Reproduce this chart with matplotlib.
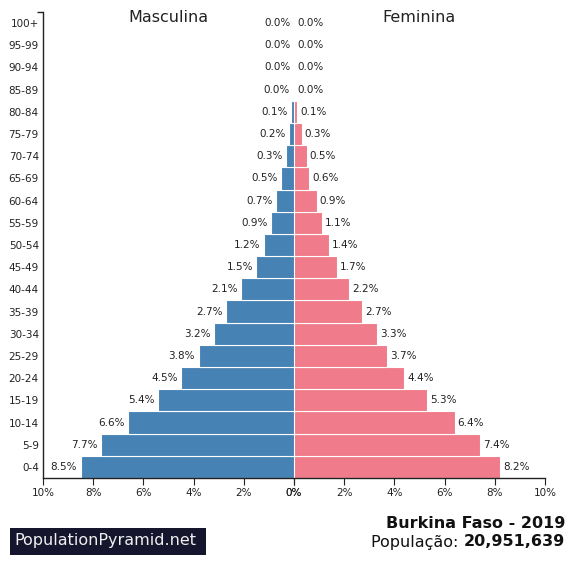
import matplotlib
matplotlib.use("Agg")
import matplotlib.pyplot as plt
from matplotlib.patches import Rectangle

age_groups = ["0-4", "5-9", "10-14", "15-19", "20-24", "25-29", "30-34", "35-39",
              "40-44", "45-49", "50-54", "55-59", "60-64", "65-69", "70-74", "75-79",
              "80-84", "85-89", "90-94", "95-99", "100+"]
male = [8.5, 7.7, 6.6, 5.4, 4.5, 3.8, 3.2, 2.7, 2.1, 1.5, 1.2, 0.9, 0.7, 0.5,
        0.3, 0.2, 0.1, 0.03, 0.01, 0.0, 0.0]
female = [8.2, 7.4, 6.4, 5.3, 4.4, 3.7, 3.3, 2.7, 2.2, 1.7, 1.4, 1.1, 0.9, 0.6,
          0.5, 0.3, 0.12, 0.03, 0.01, 0.0, 0.0]
x_ticks = [0, 2, 4, 6, 8, 10]
country = "Burkina Faso - 2019"
population = "20,951,639"

W, H = 575, 581
fig = plt.figure(figsize=(W / 100, H / 100), dpi=100)
fig.patch.set_facecolor("white")

def fx(px):
    return px / W

def fy(py):
    return 1 - py / H

left, mid, right = 43, 294, 545
top, bottom = 12, 478
axL = fig.add_axes([fx(left), fy(bottom), fx(mid - left), fy(top) - fy(bottom)])
axR = fig.add_axes([fx(mid), fy(bottom), fx(right - mid), fy(top) - fy(bottom)], sharey=axL)

blue = "#4682B4"
pink = "#F07B8A"
ypos = list(range(len(age_groups)))

axL.barh(ypos, male, height=1.0, color=blue, edgecolor="white", linewidth=0.8)
axR.barh(ypos, female, height=1.0, color=pink, edgecolor="white", linewidth=0.8)

axL.set_xlim(10, 0)
axR.set_xlim(0, 10)
axL.set_ylim(-0.5, len(age_groups) - 0.5)

for ax in (axL, axR):
    ax.set_xticks(x_ticks)
    ax.set_xticklabels([f"{t}%" for t in x_ticks], fontsize=7.5, color="#222222")
    ax.tick_params(axis="x", length=5, width=0.8, direction="out", pad=2, colors="#222222")
    ax.spines["top"].set_visible(False)
    ax.spines["right"].set_visible(False)
    ax.spines["bottom"].set_linewidth(1.0)
    ax.spines["bottom"].set_color("#222222")

axL.spines["left"].set_linewidth(1.0)
axL.spines["left"].set_color("#222222")
axR.spines["left"].set_visible(False)
axL.set_yticks(ypos)
axL.set_yticklabels(age_groups, fontsize=7.5, color="#222222")
axL.tick_params(axis="y", length=0, pad=3)
axR.tick_params(axis="y", left=False, labelleft=False)

# outer tick at the top of the y spine (pointing left)
axL.plot([-0.024, 0.0], [1.0, 1.0], transform=axL.transAxes, color="#222222",
         lw=1.0, clip_on=False, solid_capstyle="butt")

for y, v in zip(ypos, male):
    axL.annotate(f"{v:.1f}%", (v, y), xytext=(-2.5, 0), textcoords="offset points",
                 ha="right", va="center", fontsize=7.5, color="#222222")
for y, v in zip(ypos, female):
    axR.annotate(f"{v:.1f}%", (v, y), xytext=(2.2, 0), textcoords="offset points",
                 ha="left", va="center", fontsize=7.5, color="#222222")

fig.text(fx(168.5), fy(18), "Masculina", fontsize=11.5, ha="center", va="center", color="#222222")
fig.text(fx(419), fy(18), "Feminina", fontsize=11.5, ha="center", va="center", color="#222222")

# title block
fig.text(fx(565), fy(523), country, fontsize=11.5, fontweight="bold",
         ha="right", va="center", color="#111111")
num = fig.text(fx(565), fy(542), population, fontsize=11.5, fontweight="bold",
               ha="right", va="center", color="#111111")
fig.canvas.draw()
bb = num.get_window_extent(renderer=fig.canvas.get_renderer())
fig.text(bb.x0 / fig.bbox.width, fy(542), "População: ", fontsize=11.5,
         ha="right", va="center", color="#111111")

# brand box
fig.patches.append(Rectangle((fx(10), fy(555)), fx(196), fy(528) - fy(555),
                             transform=fig.transFigure, facecolor="#15152D",
                             edgecolor="none", figure=fig))
fig.text(fx(14), fy(541), "PopulationPyramid.net", fontsize=11.5,
         ha="left", va="center", color="#F0F0F0")

fig.savefig("out.png", dpi=100, facecolor="white")
